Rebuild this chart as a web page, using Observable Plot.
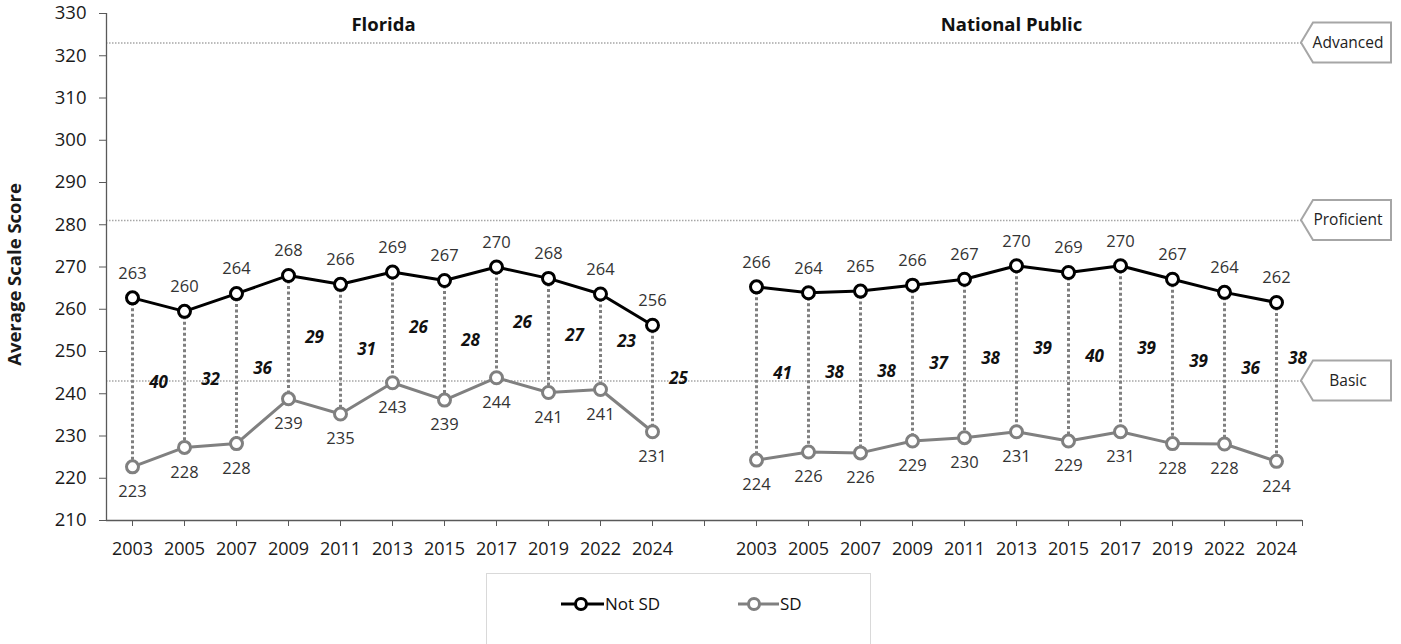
<!DOCTYPE html>
<html>
<head>
<meta charset="utf-8">
<script src="https://cdn.jsdelivr.net/npm/d3@7"></script>
<script src="https://cdn.jsdelivr.net/npm/@observablehq/plot@0.6"></script>
<style>
  html, body { margin: 0; padding: 0; background: #fff; }
  body { width: 1401px; height: 644px; overflow: hidden; font-family: "Open Sans", sans-serif; }
  #chart svg { display: block; }
  #legend {
    position: absolute; left: 486px; top: 573px; width: 385px; height: 90px;
    border: 1px solid #d9d9d9; box-sizing: border-box; background: #fff;
  }
  .item { position: absolute; top: 18px; display: flex; align-items: center; font-size: 17px; color: #111; }
  .item svg { display: block; }
</style>
</head>
<body>
<div id="chart"></div>
<div id="legend">
  <div class="item" style="left:73px"><svg width="44" height="22"><line x1="1" y1="11" x2="44" y2="11" stroke="#000" stroke-width="3"/><circle cx="21" cy="11" r="5.5" fill="#fff" stroke="#000" stroke-width="3"/></svg><span style="margin-left:1px">Not SD</span></div>
  <div class="item" style="left:250px"><svg width="42" height="22"><line x1="1" y1="11" x2="42" y2="11" stroke="#808080" stroke-width="3"/><circle cx="17" cy="11" r="5.5" fill="#fff" stroke="#808080" stroke-width="3"/></svg><span style="margin-left:1px">SD</span></div>
</div>
<script>
// ---- data ----
const years = ["2003","2005","2007","2009","2011","2013","2015","2017","2019","2022","2024"];
const panels = ["Florida", "National Public"];

const flNotSD = [262.7, 259.5, 263.7, 268.0, 265.9, 268.8, 266.8, 270.0, 267.3, 263.6, 256.2];
const flSD    = [222.7, 227.3, 228.2, 238.8, 235.2, 242.6, 238.5, 243.8, 240.3, 241.0, 231.0];
const flNotSDLabels = [263, 260, 264, 268, 266, 269, 267, 270, 268, 264, 256];
const flSDLabels    = [223, 228, 228, 239, 235, 243, 239, 244, 241, 241, 231];
const flGapLabels   = [40, 32, 36, 29, 31, 26, 28, 26, 27, 23, 25];

const npNotSD = [265.3, 263.9, 264.3, 265.7, 267.1, 270.3, 268.7, 270.3, 267.1, 264.0, 261.6];
const npSD    = [224.3, 226.2, 226.0, 228.8, 229.6, 231.0, 228.8, 231.0, 228.2, 228.1, 224.0];
const npNotSDLabels = [266, 264, 265, 266, 267, 270, 269, 270, 267, 264, 262];
const npSDLabels    = [224, 226, 226, 229, 230, 231, 229, 231, 228, 228, 224];
const npGapLabels   = [41, 38, 38, 37, 38, 39, 40, 39, 39, 36, 38];

const levelNames  = ["Advanced", "Proficient", "Basic"];
const levelScores = [323, 281, 243];

const yTicks = [210, 220, 230, 240, 250, 260, 270, 280, 290, 300, 310, 320, 330];

// ---- build table ----
const rows = [];
years.forEach((yr, i) => {
  rows.push({panel: "FL", key: "FL-" + yr, year: yr, notSD: flNotSD[i], sd: flSD[i],
    notSDLabel: flNotSDLabels[i], sdLabel: flSDLabels[i], gapLabel: flGapLabels[i]});
});
years.forEach((yr, i) => {
  rows.push({panel: "NP", key: "NP-" + yr, year: yr, notSD: npNotSD[i], sd: npSD[i],
    notSDLabel: npNotSDLabels[i], sdLabel: npSDLabels[i], gapLabel: npGapLabels[i]});
});
const xDomain = [...years.map(y => "FL-" + y), "gap", ...years.map(y => "NP-" + y)];
const lastRow = rows[rows.length - 1];
const otherRows = rows.slice(0, -1);
const levels = levelNames.map((n, i) => ({name: n, score: levelScores[i]}));

const FONT = "'Open Sans', sans-serif";
const AXIS = "#595959";

const tagMark = (index, scales) => {
  const g = d3.create("svg:g");
  for (const l of levels) {
    const cy = scales.y(l.score);
    const x0 = 1301, x1 = 1313, x2 = 1391, h = 20;
    g.append("path")
      .attr("d", `M${x0},${cy} L${x1},${cy - h} L${x2},${cy - h} L${x2},${cy + h} L${x1},${cy + h} Z`)
      .attr("fill", "#fff").attr("stroke", "#a6a6a6").attr("stroke-width", 2);
    g.append("text").attr("x", 1348).attr("y", cy).attr("dy", "0.35em")
      .attr("text-anchor", "middle").attr("font-size", 15.5).attr("fill", "#222")
      .attr("font-family", FONT).text(l.name);
  }
  return g.node();
};

const chart = Plot.plot({
  width: 1401,
  height: 560,
  marginLeft: 106,
  marginRight: 99,
  marginTop: 13,
  marginBottom: 40,
  style: {fontFamily: FONT, background: "#fff", overflow: "visible"},
  x: {type: "point", domain: xDomain, padding: 0.5, axis: null},
  y: {domain: [210, 330], axis: null},
  marks: [
    // level reference lines
    Plot.ruleY(levels, {y: "score", stroke: "#a6a6a6", strokeWidth: 1.5, strokeDasharray: "1.5,1.5"}),
    // axes
    Plot.ruleY([210], {stroke: AXIS, strokeWidth: 1.3}),
    Plot.ruleX([xDomain[0]], {dx: -26, y1: 210, y2: 330, stroke: AXIS, strokeWidth: 1.3}),
    Plot.axisY({ticks: yTicks, tickSize: 7, tickPadding: 13, fontSize: 18.5, stroke: AXIS, fill: "#1a1a1a", label: null}),
    Plot.axisX({tickSize: 6, tickPadding: 16, fontSize: 18, stroke: AXIS, fill: "#1a1a1a", label: null,
      tickFormat: k => k === "gap" ? "" : k.slice(3)}),
    Plot.axisX([xDomain[xDomain.length - 1]], {dx: 26, tickSize: 6, stroke: AXIS, tickFormat: () => "", label: null}),
    // y-axis title
    Plot.text(["Average Scale Score"], {frameAnchor: "left", textAnchor: "middle", rotate: -90, dx: -91, dy: 7.5,
      fontSize: 18.5, fontWeight: "bold", fill: "#1a1a1a"}),
    // panel titles
    Plot.text([panels[0]], {x: () => "FL-2013", y: () => 330, text: d => d, dx: -9, dy: 11.5, fontSize: 18.5, fontWeight: "bold", fill: "#111"}),
    Plot.text([panels[1]], {x: () => "NP-2013", y: () => 330, text: d => d, dx: -5, dy: 11.5, fontSize: 18.5, fontWeight: "bold", fill: "#111"}),
    // connectors
    Plot.ruleX(rows, {x: "key", y1: "notSD", y2: "sd", stroke: "#7f7f7f", strokeWidth: 3, strokeDasharray: "3,2.5"}),
    // lines
    Plot.line(rows, {x: "key", y: "sd", z: "panel", stroke: "#808080", strokeWidth: 3}),
    Plot.line(rows, {x: "key", y: "notSD", z: "panel", stroke: "#000", strokeWidth: 3}),
    Plot.dot(rows, {x: "key", y: "sd", r: 6, fill: "#fff", stroke: "#808080", strokeWidth: 3}),
    Plot.dot(rows, {x: "key", y: "notSD", r: 6, fill: "#fff", stroke: "#000", strokeWidth: 3}),
    // value labels
    Plot.text(rows, {x: "key", y: "notSD", text: "notSDLabel", dy: -24.5, fontSize: 16.5, fill: "#333"}),
    Plot.text(rows, {x: "key", y: "sd", text: "sdLabel", dy: 25, fontSize: 16.5, fill: "#333"}),
    // achievement-level tags
    tagMark,
    // gap labels (between the two series)
    Plot.text(otherRows, {x: "key", y: d => (d.notSD + d.sd) / 2, text: "gapLabel", dx: 26,
      fontSize: 17, fontWeight: "bold", fontStyle: "italic", fill: "#111"}),
    Plot.text([lastRow], {x: "key", y: d => (d.notSD + d.sd) / 2, text: "gapLabel", dx: 21, dy: -23,
      fontSize: 17, fontWeight: "bold", fontStyle: "italic", fill: "#111"})
  ]
});
document.getElementById("chart").appendChild(chart);
</script>
</body>
</html>
